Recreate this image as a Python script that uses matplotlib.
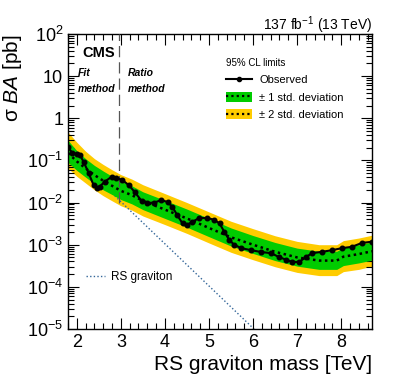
import matplotlib
matplotlib.use("Agg")
import math
import matplotlib.pyplot as plt
from matplotlib.lines import Line2D
from matplotlib.patches import Patch
from matplotlib.ticker import FixedLocator, MultipleLocator, FuncFormatter, LogLocator, NullFormatter

plt.rcParams["font.family"] = ["Liberation Sans", "DejaVu Sans"]
plt.rcParams["mathtext.fontset"] = "custom"
plt.rcParams["mathtext.rm"] = "Liberation Sans"
plt.rcParams["mathtext.it"] = "Liberation Sans:italic"
plt.rcParams["mathtext.bf"] = "Liberation Sans:bold"

# expected limit and bands (pb)
mass_exp = [1.8, 2.0, 2.2, 2.4, 2.6, 2.8, 3.0, 3.25, 3.5, 4.0, 4.5, 5.0, 5.5, 6.0,
            6.5, 7.0, 7.5, 7.9, 8.05, 8.4, 8.7]
expected = [0.15, 0.095, 0.065, 0.045, 0.033, 0.025, 0.019, 0.015, 0.011, 0.0068,
            0.0042, 0.0025, 0.0015, 0.001, 0.00068, 0.0005, 0.00042, 0.00042,
            0.00052, 0.0006, 0.0007]
plus1 = [0.30, 0.17, 0.11, 0.076, 0.056, 0.042, 0.032, 0.025, 0.018, 0.0113, 0.007,
         0.0042, 0.0025, 0.00165, 0.00113, 0.00083, 0.0007, 0.0007, 0.00086, 0.001,
         0.00116]
minus1 = [0.09, 0.058, 0.04, 0.028, 0.02, 0.0155, 0.0118, 0.0093, 0.0068, 0.0042,
          0.0026, 0.00155, 0.00093, 0.00062, 0.00042, 0.00031, 0.00026, 0.00026,
          0.00032, 0.00037, 0.00043]
plus2 = [0.47, 0.27, 0.165, 0.11, 0.08, 0.06, 0.046, 0.036, 0.0265, 0.0163, 0.01,
         0.006, 0.0036, 0.0024, 0.00163, 0.0012, 0.001, 0.001, 0.00125, 0.00144,
         0.00168]
minus2 = [0.065, 0.042, 0.029, 0.02, 0.0145, 0.011, 0.0084, 0.0066, 0.0048, 0.003,
          0.00185, 0.0011, 0.00066, 0.00044, 0.0003, 0.00022, 0.000185, 0.000185,
          0.00023, 0.00026, 0.00031]

# observed limit
mass_obs = [1.8, 1.9, 2.0, 2.07, 2.16, 2.27, 2.38, 2.45, 2.52, 2.63, 2.79, 2.9, 3.02,
            3.18, 3.31, 3.47, 3.6, 3.76, 3.92, 4.06, 4.17, 4.28, 4.4, 4.49, 4.62,
            4.78, 4.96, 5.12, 5.24, 5.35, 5.46, 5.57, 5.73, 5.96, 6.19, 6.41, 6.59,
            6.75, 6.89, 7.05, 7.2, 7.34, 7.57, 7.79, 8.02, 8.24, 8.47, 8.7]
observed = [0.21, 0.148, 0.145, 0.135, 0.09, 0.05, 0.026, 0.022, 0.024, 0.031,
            0.041, 0.038, 0.035, 0.026, 0.018, 0.011, 0.0098, 0.010, 0.0115, 0.0103,
            0.0079, 0.005, 0.0032, 0.0029, 0.0035, 0.0043, 0.0043, 0.0039, 0.0032,
            0.002, 0.0013, 0.001, 0.00083, 0.00074, 0.00067, 0.00063, 0.00051,
            0.00044, 0.00039, 0.00039, 0.00051, 0.00063, 0.00068, 0.00074, 0.00083,
            0.00089, 0.0011, 0.00118]

# RS graviton cross section
mass_rs = [1.8, 3.0, 4.0, 5.0, 6.0, 6.2]
xsec_rs = [0.17, 0.0105, 0.00105, 0.000105, 1.05e-5, 6.5e-6]

method_split = 2.95

green = "#00cc00"
yellow = "#ffcc00"

fig = plt.figure(figsize=(3.99, 3.87), dpi=100)
ax = fig.add_axes([68 / 399, 1 - 329 / 387, 304 / 399, 295 / 387])

ax.fill_between(mass_exp, minus2, plus2, color=yellow, lw=0, zorder=1)
ax.fill_between(mass_exp, minus1, plus1, color=green, lw=0, zorder=2)
ax.plot(mass_rs, xsec_rs, color="#336699", lw=1.0, ls=(0, (1, 1.6)), zorder=1.5)
ax.plot(mass_exp, expected, color="black", lw=1.8, ls=(0, (1, 1.4)), zorder=3)
ax.plot(mass_obs, observed, color="black", lw=1.5, marker="o", ms=3.3, zorder=4)
ax.plot([method_split, method_split], [0.01, 100], color="#555555", lw=0.9,
        ls=(0, (9, 4)), zorder=3)

ax.set_yscale("log")
ax.set_xlim(1.8, 8.7)
ax.set_ylim(1e-5, 100)

ax.xaxis.set_major_locator(MultipleLocator(1))
ax.xaxis.set_minor_locator(MultipleLocator(0.2))
ax.yaxis.set_major_locator(FixedLocator([1e-5, 1e-4, 1e-3, 1e-2, 1e-1, 1, 10, 100]))
ax.yaxis.set_minor_locator(LogLocator(base=10, subs=range(2, 10), numticks=20))
ax.yaxis.set_minor_formatter(NullFormatter())


def ylab(v, pos):
    n = int(round(math.log10(v)))
    if n == 0:
        return "1"
    if n == 1:
        return "10"
    return "$10^{%d}$" % n


ax.yaxis.set_major_formatter(FuncFormatter(ylab))
ax.tick_params(which="both", direction="in", top=True, right=True, labelsize=13,
               width=0.8)
ax.tick_params(which="major", length=8)
ax.tick_params(which="minor", length=4)
ax.tick_params(axis="x", pad=3.5)
for s in ax.spines.values():
    s.set_linewidth(1.0)

ax.set_xlabel("RS graviton mass [TeV]", fontsize=15, loc="right", labelpad=3)
ax.set_ylabel(r"σ $BA$ [pb]", fontsize=15, loc="top", labelpad=2)

fig.text(372 / 399, 1 - 30 / 387, "137 fb$^{-1}$ (13 TeV)", ha="right",
         va="baseline", fontsize=10)
fig.text(82 / 399, 1 - 57 / 387, "CMS", fontsize=10.5, fontweight="bold",
         va="baseline")
for xt, lab in [(78, "Fit"), (128, "Ratio")]:
    fig.text(xt / 399, 1 - 76 / 387, lab, fontsize=7.5, style="italic",
             fontweight="bold", va="baseline")
    fig.text(xt / 399, 1 - 92 / 387, "method", fontsize=7.5, style="italic",
             fontweight="bold", va="baseline")

h_obs = Line2D([], [], color="black", lw=1.5, marker="o", ms=3)
h_1 = (Patch(color=green, lw=0), Line2D([], [], color="black", lw=1.6, ls=(0, (1, 1.4))))
h_2 = (Patch(color=yellow, lw=0), Line2D([], [], color="black", lw=1.6, ls=(0, (1, 1.4))))
ax.legend([h_obs, h_1, h_2], ["Observed", "± 1 std. deviation", "± 2 std. deviation"],
          title="95% CL limits", title_fontsize=7, fontsize=8,
          loc="upper left", bbox_to_anchor=(218 / 399, 1 - 50 / 387),
          bbox_transform=fig.transFigure, frameon=False, alignment="left",
          handlelength=2.4, handleheight=1.0, labelspacing=0.6,
          handletextpad=0.6, borderpad=0.2)

fig.legend([Line2D([], [], color="#336699", lw=1.0, ls=(0, (1, 1.6)))],
           ["RS graviton"], fontsize=8.5, loc="center left",
           bbox_to_anchor=(78 / 399, 1 - 277 / 387), frameon=False,
           handlelength=1.6, handletextpad=0.5, borderpad=0.2)

fig.savefig("out.png", dpi=100)
